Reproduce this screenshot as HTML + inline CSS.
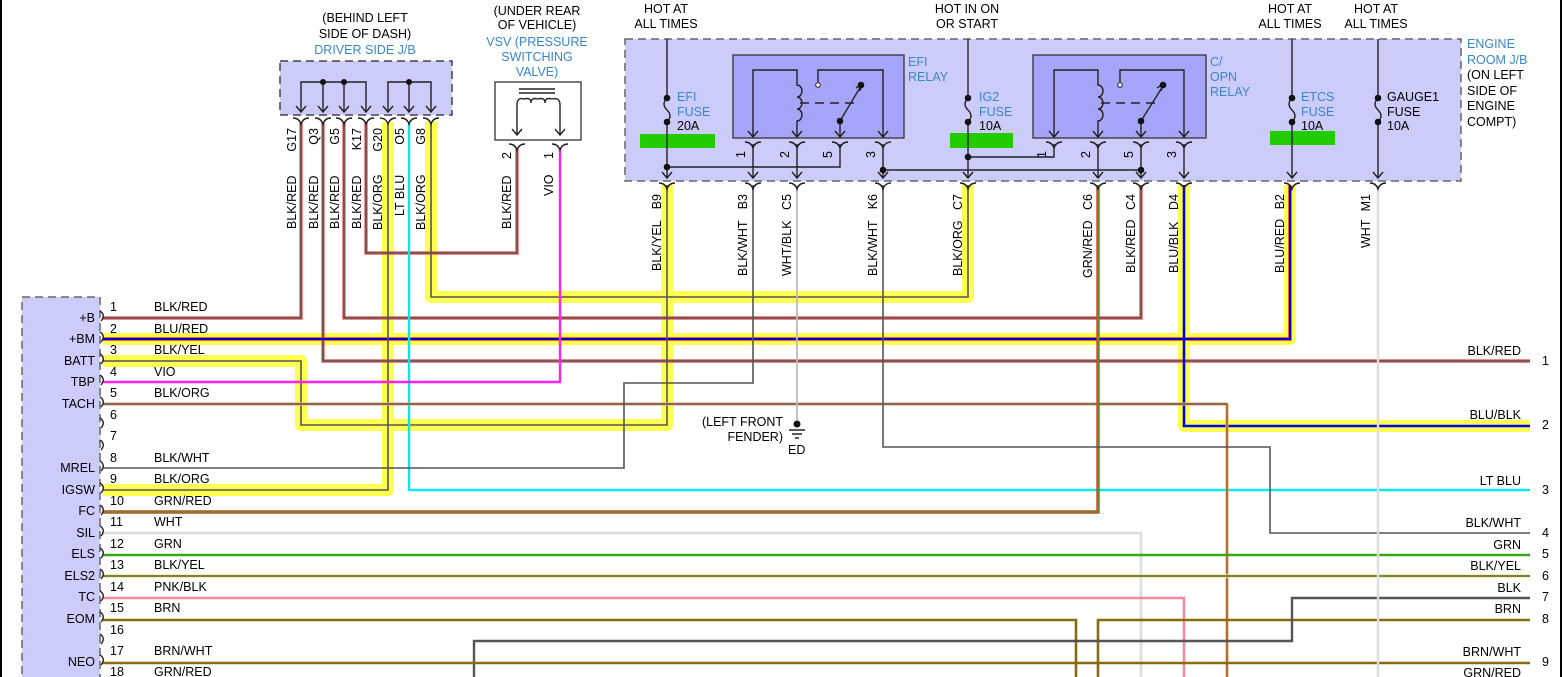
<!DOCTYPE html>
<html><head><meta charset="utf-8"><style>
html,body{margin:0;padding:0;background:#fff}
svg{display:block}
text{font-family:"Liberation Sans",sans-serif;font-size:12.5px;fill:#000}
.b{fill:#3a86c8}
.hl{stroke:#ffff50;stroke-width:12;fill:none;stroke-linejoin:round}
.k{stroke:#555;stroke-width:1.6;fill:none}
.kd{stroke:#222;stroke-width:1.4;fill:none}
.r{stroke:#ee6060;stroke-width:3.4;fill:none}
</style></head><body>
<svg width="1563" height="677" viewBox="0 0 1563 677" xmlns="http://www.w3.org/2000/svg">
<line x1="1" y1="0" x2="1" y2="677" stroke="#000" stroke-width="2"/>
<line x1="1561" y1="0" x2="1561" y2="677" stroke="#000" stroke-width="2"/>

<!-- boxes -->
<rect x="22" y="297" width="78" height="390" fill="#ccccfa" stroke="#666" stroke-width="1.5" stroke-dasharray="8,5"/>
<rect x="280" y="61" width="172" height="54" fill="#ccccfa" stroke="#444" stroke-width="1.5" stroke-dasharray="8,5"/>
<rect x="625" y="39" width="836" height="142" fill="#ccccfa" stroke="#666" stroke-width="1.5" stroke-dasharray="8,5"/>
<rect x="733" y="55" width="171" height="83" fill="#a5a5fa" stroke="#333" stroke-width="1.3"/>
<rect x="1033" y="55" width="173" height="83" fill="#a5a5fa" stroke="#333" stroke-width="1.3"/>
<rect x="495" y="82" width="86" height="58" fill="#fff" stroke="#333" stroke-width="1.3"/>

<!-- green bars -->
<rect x="640" y="134" width="75" height="14" fill="#22cc00"/>
<rect x="950" y="133" width="63" height="15" fill="#22cc00"/>
<rect x="1270" y="131" width="65" height="14" fill="#22cc00"/>

<!-- highlights -->
<path class="hl" d="M103,339 H1290 V185"/>
<path class="hl" d="M103,361 H301 V425 H667 V185"/>
<path class="hl" d="M103,490 H388 V122"/>
<path class="hl" d="M431,122 V297 H968 V185"/>
<path class="hl" d="M1184,185 V426 H1530"/>

<!-- wires -->
<path class="r" d="M103,318 H301 V122"/><path class="k" d="M103,318 H301 V122"/>
<path class="r" d="M323,122 V361 H1530"/><path class="k" d="M323,122 V361 H1530"/>
<path class="r" d="M344,122 V318 H1141 V185"/><path class="k" d="M344,122 V318 H1141 V185"/>
<path class="r" d="M366,122 V253 H517 V148"/><path class="k" d="M366,122 V253 H517 V148"/>
<path stroke="#e03030" stroke-width="3.5" fill="none" d="M103,339 H1290 V185"/>
<path stroke="#0000cc" stroke-width="2" fill="none" d="M103,339 H1290 V185"/>
<path class="k" d="M103,361 H301 V425 H667 V185"/>
<path class="k" d="M103,490 H388 V122"/>
<path class="k" d="M431,122 V297 H968 V185"/>
<path stroke="#0000ee" stroke-width="2.6" fill="none" d="M1184,185 V426 H1530"/>
<path stroke="#00e8f0" stroke-width="2.4" fill="none" d="M409,122 V490 H1530"/>
<path stroke="#ff22ee" stroke-width="2.4" fill="none" d="M103,382 H560 V148"/>
<path stroke="#f0b080" stroke-width="3.2" fill="none" d="M103,404 H1227 V677"/><path class="k" d="M103,404 H1227" /><path stroke="#a06020" stroke-width="1.6" fill="none" d="M1227,404 V677"/>
<path class="k" d="M103,468 H624 V383 H753 V185"/>
<path stroke="#ee3030" stroke-width="3.4" fill="none" d="M103,512 H1098 V185"/><path stroke="#44a020" stroke-width="1.8" fill="none" d="M103,512 H1098 V185"/>
<path stroke="#dddddd" stroke-width="2.6" fill="none" d="M103,533 H1141 V677"/>
<path stroke="#33aa11" stroke-width="2.6" fill="none" d="M103,555 H1530"/>
<path stroke="#eeee60" stroke-width="3.2" fill="none" d="M103,576 H1530"/><path class="k" d="M103,576 H1530"/>
<path stroke="#f08aa0" stroke-width="2.6" fill="none" d="M103,598 H1184 V677"/>
<path stroke="#8a6a10" stroke-width="2.6" fill="none" d="M103,620 H1076 V677"/>
<path stroke="#8a6a10" stroke-width="2.6" fill="none" d="M1098,677 V620 H1530"/>
<path stroke="#555" stroke-width="2.4" fill="none" d="M474,677 V641 H1292 V598 H1530"/>
<path stroke="#8a6a10" stroke-width="2.4" fill="none" d="M103,663 H1530"/>
<path class="k" d="M883,185 V447 H1270 V533 H1530"/>
<path stroke="#bbb" stroke-width="1.8" fill="none" d="M797,185 V420"/>
<path stroke="#dddddd" stroke-width="2.4" fill="none" d="M1378,185 V677"/>

<!-- ground -->
<circle cx="797" cy="424" r="3.5" fill="#111"/>
<path class="kd" d="M789,430 H805 M792,434 H802 M795,438 H799"/>
<text x="783" y="426" text-anchor="end">(LEFT FRONT</text>
<text x="783" y="441" text-anchor="end">FENDER)</text>
<text x="788" y="454">ED</text>

<!-- driver J/B inner -->
<path class="kd" d="M301,112 V82 H366 V112 M323,82 V112 M344,82 V112 M388,112 V82 H431 V112 M409,82 V112"/>
<circle cx="323" cy="82" r="3" fill="#111"/><circle cx="344" cy="82" r="3" fill="#111"/><circle cx="409" cy="82" r="3" fill="#111"/>
<g class="kd">
<path d="M296,106 L301,112 L306,106 M318,106 L323,112 L328,106 M339,106 L344,112 L349,106 M361,106 L366,112 L371,106 M383,106 L388,112 L393,106 M404,106 L409,112 L414,106 M426,106 L431,112 L436,106"/>
<path d="M293,118 Q299,118 301,124 Q303,118 309,118 M315,118 Q321,118 323,124 Q325,118 331,118 M336,118 Q342,118 344,124 Q346,118 352,118 M358,118 Q364,118 366,124 Q368,118 374,118 M380,118 Q386,118 388,124 Q390,118 396,118 M401,118 Q407,118 409,124 Q411,118 417,118 M423,118 Q429,118 431,124 Q433,118 439,118"/>
</g>
<text x="365" y="22" text-anchor="middle">(BEHIND LEFT</text>
<text x="365" y="38" text-anchor="middle">SIDE OF DASH)</text>
<text x="365" y="54" text-anchor="middle" class="b">DRIVER SIDE J/B</text>

<!-- VSV -->
<text x="537" y="15" text-anchor="middle">(UNDER REAR</text>
<text x="537" y="29" text-anchor="middle">OF VEHICLE)</text>
<text x="537" y="46" text-anchor="middle" class="b">VSV (PRESSURE</text>
<text x="537" y="61" text-anchor="middle" class="b">SWITCHING</text>
<text x="537" y="76" text-anchor="middle" class="b">VALVE)</text>
<path class="kd" d="M519,89 H555 M519,93 H555 M517,135 V105 Q517,97 524,99 Q531,97 531,103 Q531,97 538,99 Q545,97 545,103 Q545,97 552,99 Q560,97 560,105 V135 M512,129 L517,135 L522,129 M555,129 L560,135 L565,129 M509,144 Q515,144 517,150 Q519,144 525,144 M552,144 Q558,144 560,150 Q562,144 568,144"/>

<!-- engine J/B top labels -->
<text x="666" y="13" text-anchor="middle">HOT AT</text><text x="666" y="28" text-anchor="middle">ALL TIMES</text>
<text x="967" y="13" text-anchor="middle">HOT IN ON</text><text x="967" y="28" text-anchor="middle">OR START</text>
<text x="1290" y="13" text-anchor="middle">HOT AT</text><text x="1290" y="28" text-anchor="middle">ALL TIMES</text>
<text x="1376" y="13" text-anchor="middle">HOT AT</text><text x="1376" y="28" text-anchor="middle">ALL TIMES</text>
<text x="1467" y="48" class="b">ENGINE</text><text x="1467" y="64" class="b">ROOM J/B</text>
<text x="1467" y="79">(ON LEFT</text><text x="1467" y="95">SIDE OF</text><text x="1467" y="110">ENGINE</text><text x="1467" y="126">COMPT)</text>
<text x="908" y="66" class="b">EFI</text><text x="908" y="81" class="b">RELAY</text>
<text x="1210" y="66" class="b">C/</text><text x="1210" y="81" class="b">OPN</text><text x="1210" y="96" class="b">RELAY</text>
<text x="677" y="101" class="b">EFI</text><text x="677" y="116" class="b">FUSE</text><text x="677" y="130">20A</text>
<text x="979" y="101" class="b">IG2</text><text x="979" y="116" class="b">FUSE</text><text x="979" y="130">10A</text>
<text x="1301" y="101" class="b">ETCS</text><text x="1301" y="116" class="b">FUSE</text><text x="1301" y="130">10A</text>
<text x="1387" y="101">GAUGE1</text><text x="1387" y="116">FUSE</text><text x="1387" y="130">10A</text>

<g class="kd">
<!-- fuses & supply lines -->
<path d="M667,39 V98 Q661,104 667,110 Q673,116 667,122 V178 M968,39 V98 Q962,104 968,110 Q974,116 968,122 V178 M1292,39 V98 Q1286,104 1292,110 Q1298,116 1292,122 V178 M1378,39 V98 Q1372,104 1378,110 Q1384,116 1378,122 V178"/>
<!-- EFI relay inner -->
<path d="M753,137 V70 H797 V85 a5,6 0 0 1 0,12 a5,6 0 0 1 0,12 a5,6 0 0 1 0,12 V137 M818,82 V70 H883 V137 M840,121 L861,86 M840,121 V137 M753,144 V178 M797,144 V178 M883,144 V178 M840,144 V167 H667 M883,170 H1141"/>
<path d="M800,103 H855" stroke-dasharray="9,6"/>
<!-- C/OPN relay inner -->
<path d="M1054,137 V70 H1098 V85 a5,6 0 0 1 0,12 a5,6 0 0 1 0,12 a5,6 0 0 1 0,12 V137 M1120,82 V70 H1184 V137 M1141,121 L1163,86 M1141,121 V137 M1054,144 V157 H968 M1098,144 V178 M1141,144 V178 M1184,144 V178"/>
<path d="M1101,103 H1157" stroke-dasharray="9,6"/>
<!-- arrows in relays -->
<path d="M748,131 L753,137 L758,131 M792,131 L797,137 L802,131 M835,131 L840,137 L845,131 M878,131 L883,137 L888,131 M1049,131 L1054,137 L1059,131 M1093,131 L1098,137 L1103,131 M1136,131 L1141,137 L1146,131 M1179,131 L1184,137 L1189,131"/>
<path d="M745,142 Q751,142 753,148 Q755,142 761,142 M789,142 Q795,142 797,148 Q799,142 805,142 M832,142 Q838,142 840,148 Q842,142 848,142 M875,142 Q881,142 883,148 Q885,142 891,142 M1046,142 Q1052,142 1054,148 Q1056,142 1062,142 M1090,142 Q1096,142 1098,148 Q1100,142 1106,142 M1133,142 Q1139,142 1141,148 Q1143,142 1149,142 M1176,142 Q1182,142 1184,148 Q1186,142 1192,142"/>
<path d="M856,88 L862,84 L860,91"/>
<path d="M1157,88 L1163,84 L1161,91"/>
<!-- bottom arrows and connectors -->
<path d="M662,172 L667,178 L672,172 M748,172 L753,178 L758,172 M792,172 L797,178 L802,172 M878,172 L883,178 L888,172 M963,172 L968,178 L973,172 M1093,172 L1098,178 L1103,172 M1136,172 L1141,178 L1146,172 M1179,172 L1184,178 L1189,172 M1287,172 L1292,178 L1297,172 M1373,172 L1378,178 L1383,172"/>
<path d="M659,183 Q665,183 667,189 Q669,183 675,183 M745,183 Q751,183 753,189 Q755,183 761,183 M789,183 Q795,183 797,189 Q799,183 805,183 M875,183 Q881,183 883,189 Q885,183 891,183 M960,183 Q966,183 968,189 Q970,183 976,183 M1090,183 Q1096,183 1098,189 Q1100,183 1106,183 M1133,183 Q1139,183 1141,189 Q1143,183 1149,183 M1176,183 Q1182,183 1184,189 Q1186,183 1192,183 M1284,183 Q1290,183 1292,189 Q1294,183 1300,183 M1370,183 Q1376,183 1378,189 Q1380,183 1386,183"/>
</g>
<g fill="#111">
<circle cx="667" cy="98" r="3.3"/><circle cx="667" cy="122" r="3.3"/><circle cx="968" cy="98" r="3.3"/><circle cx="968" cy="122" r="3.3"/>
<circle cx="1292" cy="98" r="3.3"/><circle cx="1292" cy="122" r="3.3"/><circle cx="1378" cy="98" r="3.3"/><circle cx="1378" cy="122" r="3.3"/>
<circle cx="667" cy="167" r="3.3"/><circle cx="883" cy="170" r="3.3"/><circle cx="968" cy="157" r="3.3"/><circle cx="1141" cy="170" r="3.3"/>
<circle cx="840" cy="121" r="3.3"/><circle cx="861" cy="85" r="3.3"/><circle cx="1141" cy="121" r="3.3"/><circle cx="1163" cy="85" r="3.3"/>
</g>
<circle cx="818" cy="85" r="2.3" fill="#fff" stroke="#222"/><circle cx="1120" cy="85" r="2.3" fill="#fff" stroke="#222"/>

<!-- rotated labels -->
<g>
<text transform="translate(296,128) rotate(-90)" text-anchor="end">G17</text><text transform="translate(296,229) rotate(-90)">BLK/RED</text>
<text transform="translate(318,128) rotate(-90)" text-anchor="end">Q3</text><text transform="translate(318,229) rotate(-90)">BLK/RED</text>
<text transform="translate(339,128) rotate(-90)" text-anchor="end">G5</text><text transform="translate(339,229) rotate(-90)">BLK/RED</text>
<text transform="translate(361,128) rotate(-90)" text-anchor="end">K17</text><text transform="translate(361,229) rotate(-90)">BLK/RED</text>
<text transform="translate(382,128) rotate(-90)" text-anchor="end">G20</text><text transform="translate(382,230) rotate(-90)">BLK/ORG</text>
<text transform="translate(404,128) rotate(-90)" text-anchor="end">O5</text><text transform="translate(404,216) rotate(-90)">LT BLU</text>
<text transform="translate(425,128) rotate(-90)" text-anchor="end">G8</text><text transform="translate(425,230) rotate(-90)">BLK/ORG</text>
<text transform="translate(511,152) rotate(-90)" text-anchor="end">2</text><text transform="translate(511,229) rotate(-90)">BLK/RED</text>
<text transform="translate(553,152) rotate(-90)" text-anchor="end">1</text><text transform="translate(553,196) rotate(-90)">VIO</text>
<text transform="translate(745,151) rotate(-90)" text-anchor="end">1</text>
<text transform="translate(789,151) rotate(-90)" text-anchor="end">2</text>
<text transform="translate(832,151) rotate(-90)" text-anchor="end">5</text>
<text transform="translate(875,151) rotate(-90)" text-anchor="end">3</text>
<text transform="translate(1046,151) rotate(-90)" text-anchor="end">1</text>
<text transform="translate(1090,151) rotate(-90)" text-anchor="end">2</text>
<text transform="translate(1133,151) rotate(-90)" text-anchor="end">5</text>
<text transform="translate(1176,151) rotate(-90)" text-anchor="end">3</text>
<text transform="translate(661,194) rotate(-90)" text-anchor="end">B9</text><text transform="translate(661,271) rotate(-90)">BLK/YEL</text>
<text transform="translate(747,194) rotate(-90)" text-anchor="end">B3</text><text transform="translate(747,276) rotate(-90)">BLK/WHT</text>
<text transform="translate(791,194) rotate(-90)" text-anchor="end">C5</text><text transform="translate(791,276) rotate(-90)">WHT/BLK</text>
<text transform="translate(877,194) rotate(-90)" text-anchor="end">K6</text><text transform="translate(877,276) rotate(-90)">BLK/WHT</text>
<text transform="translate(962,194) rotate(-90)" text-anchor="end">C7</text><text transform="translate(962,276) rotate(-90)">BLK/ORG</text>
<text transform="translate(1092,194) rotate(-90)" text-anchor="end">C6</text><text transform="translate(1092,278) rotate(-90)">GRN/RED</text>
<text transform="translate(1135,194) rotate(-90)" text-anchor="end">C4</text><text transform="translate(1135,273) rotate(-90)">BLK/RED</text>
<text transform="translate(1178,194) rotate(-90)" text-anchor="end">D4</text><text transform="translate(1178,273) rotate(-90)">BLU/BLK</text>
<text transform="translate(1284,194) rotate(-90)" text-anchor="end">B2</text><text transform="translate(1284,273) rotate(-90)">BLU/RED</text>
<text transform="translate(1370,194) rotate(-90)" text-anchor="end">M1</text><text transform="translate(1370,248) rotate(-90)">WHT</text>
</g>

<!-- ECU pin connectors -->
<g class="kd">
<path d="M100,311 q6,4 1,10 M100,332 q6,4 1,10 M100,354 q6,4 1,10 M100,375 q6,4 1,10 M100,397 q6,4 1,10 M100,418 q6,4 1,10 M100,440 q6,4 1,10 M100,461 q6,4 1,10 M100,483 q6,4 1,10 M100,505 q6,4 1,10 M100,526 q6,4 1,10 M100,548 q6,4 1,10 M100,569 q6,4 1,10 M100,591 q6,4 1,10 M100,612 q6,4 1,10 M100,634 q6,4 1,10 M100,655 q6,4 1,10 M100,677 q6,4 1,10"/>
</g>
<g text-anchor="end">
<text x="95" y="322">+B</text><text x="95" y="343">+BM</text><text x="95" y="365">BATT</text><text x="95" y="386">TBP</text><text x="95" y="408">TACH</text>
<text x="95" y="472">MREL</text><text x="95" y="494">IGSW</text><text x="95" y="515">FC</text><text x="95" y="537">SIL</text><text x="95" y="558">ELS</text>
<text x="95" y="580">ELS2</text><text x="95" y="601">TC</text><text x="95" y="623">EOM</text><text x="95" y="666">NEO</text>
</g>
<g>
<text x="110" y="311">1</text><text x="110" y="333">2</text><text x="110" y="354">3</text><text x="110" y="376">4</text><text x="110" y="397">5</text>
<text x="110" y="419">6</text><text x="110" y="440">7</text><text x="110" y="462">8</text><text x="110" y="483">9</text><text x="110" y="505">10</text>
<text x="110" y="526">11</text><text x="110" y="548">12</text><text x="110" y="569">13</text><text x="110" y="591">14</text><text x="110" y="612">15</text>
<text x="110" y="634">16</text><text x="110" y="655">17</text><text x="110" y="676">18</text>
<text x="154" y="311">BLK/RED</text><text x="154" y="333">BLU/RED</text><text x="154" y="354">BLK/YEL</text><text x="154" y="376">VIO</text><text x="154" y="397">BLK/ORG</text>
<text x="154" y="462">BLK/WHT</text><text x="154" y="483">BLK/ORG</text><text x="154" y="505">GRN/RED</text><text x="154" y="526">WHT</text><text x="154" y="548">GRN</text>
<text x="154" y="569">BLK/YEL</text><text x="154" y="591">PNK/BLK</text><text x="154" y="612">BRN</text><text x="154" y="655">BRN/WHT</text><text x="154" y="676">GRN/RED</text>
</g>
<!-- right labels -->
<g text-anchor="end">
<text x="1521" y="355">BLK/RED</text><text x="1521" y="419">BLU/BLK</text><text x="1521" y="485">LT BLU</text><text x="1521" y="527">BLK/WHT</text>
<text x="1521" y="549">GRN</text><text x="1521" y="570">BLK/YEL</text><text x="1521" y="592">BLK</text><text x="1521" y="613">BRN</text>
<text x="1521" y="656">BRN/WHT</text><text x="1521" y="677">GRN/RED</text>
</g>
<g>
<text x="1542" y="365">1</text><text x="1542" y="429">2</text><text x="1542" y="494">3</text><text x="1542" y="537">4</text><text x="1542" y="558">5</text>
<text x="1542" y="580">6</text><text x="1542" y="601">7</text><text x="1542" y="623">8</text><text x="1542" y="666">9</text>
</g>
</svg>
</body></html>
